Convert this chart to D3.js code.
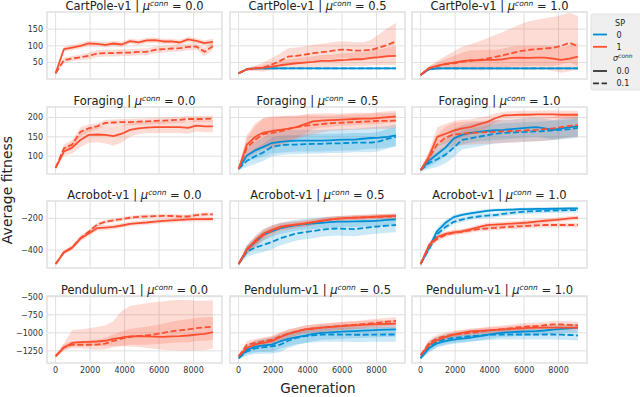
<!DOCTYPE html>
<html><head><meta charset="utf-8">
<script src="https://cdn.jsdelivr.net/npm/d3@7"></script>
<style>body{margin:0;background:#fff}svg{display:block}text{font-family:"DejaVu Sans",sans-serif}</style>
</head><body><svg id="c" width="640" height="397"></svg>
<script>
// ---------- data ----------
const gens = [0,480,960,1440,1920,2400,2880,3360,3840,4320,4800,5280,5760,6240,6720,7200,7680,8160,8640,9120];
const envs = ["CartPole-v1","Foraging","Acrobot-v1","Pendulum-v1"];
const mus = ["0.0","0.5","1.0"];
const xTicks = [0,2000,4000,6000,8000];
const yTicksCartPole = [50,100,150];
const yTicksForaging = [100,150,200];
const yTicksAcrobot = [-400,-200];
const yTicksPendulum = [-1250,-1000,-750,-500];
const spLevels = ["0","1"];
const sigmaLevels = ["0.0","0.1"];

// CartPole
const CP0_R0 = [18,90,95,100,107,106,103,107,104,114,110,116,117,113,113,110,119,115,108,112];
const CP0_R0w = [3,8,8,8,8,8,8,8,8,8,8,8,8,8,8,8,8,8,8,10];
const CP0_R1 = [18,57,62,66,70,77,78,78,80,80,82,82,88,90,92,93,97,98,82,99];
const CP0_R1w = [3,8,8,8,10,10,10,10,10,10,10,10,10,10,10,10,10,10,12,12];
const CP5_B0 = [18,30,33,33,33,33,33,33,33,33,33,33,33,33,33,33,33,33,33,33];
const CP5_B0w = [2,2,1,1,1,1,1,1,1,1,1,1,1,1,1,1,1,1,1,1];
const CP5_B1 = [18,31,33,33,33,33,33,33,33,33,33,33,33,33,33,33,33,33,33,33];
const CP5_B1w = [2,2,1,1,1,1,1,1,1,1,1,1,1,1,1,1,1,1,1,1];
const CP5_R0 = [18,30,33,35,38,42,45,48,50,52,55,55,57,58,60,60,64,66,69,70];
const CP5_R0w = [2,3,5,8,10,12,14,15,16,17,18,18,19,20,20,21,22,24,26,28];
const CP5_R1 = [18,30,33,35,44,55,68,70,74,78,81,84,88,89,86,86,88,95,103,113];
const CP5_R1w = [2,4,8,12,15,18,20,22,22,23,23,24,25,25,25,25,28,32,38,45];
const CP5_R1u = [2,4,8,15,20,22,25,25,25,25,25,25,25,25,25,25,30,40,50,55];
const CP10_B0 = [13,30,33,33,33,33,33,33,33,33,33,33,33,33,33,33,33,33,33,33];
const CP10_B0w = [2,2,1,1,1,1,1,1,1,1,1,1,1,1,1,1,1,1,1,1];
const CP10_B1 = [13,31,33,33,33,33,33,33,33,33,33,33,33,33,33,33,33,33,33,33];
const CP10_B1w = [2,2,1,1,1,1,1,1,1,1,1,1,1,1,1,1,1,1,1,1];
const CP10_R0 = [13,33,40,46,50,54,57,57,58,58,60,64,65,64,65,65,62,58,62,68];
const CP10_R0w = [2,5,10,15,20,25,30,30,30,30,32,34,35,36,36,36,37,38,38,40];
const CP10_R1 = [13,33,40,45,48,52,55,58,62,67,72,78,84,88,90,92,94,100,109,99];
const CP10_R1w = [2,6,12,15,18,20,22,25,28,32,36,40,45,48,50,52,54,56,58,60];
const CP10_R1u = [2,6,15,25,35,45,50,55,60,65,70,75,80,85,88,90,92,92,90,90];

// Foraging
const FO0_R0 = [70,112,122,142,155,156,155,152,158,168,172,174,175,175,175,175,173,179,177,177];
const FO0_R0w = [3,10,15,18,20,20,22,25,22,18,15,15,15,15,15,15,15,15,15,15];
const FO0_R1 = [70,120,130,163,172,177,186,187,188,188,189,190,191,192,193,194,196,196,196,197];
const FO0_R1w = [3,10,12,12,10,8,8,8,8,8,8,8,8,8,8,8,8,8,8,8];
const FO5_B0 = [67,102,115,124,134,137,139,140,140,140,140,141,142,143,143,145,147,148,150,154];
const FO5_B0w = [3,15,22,25,28,28,28,28,28,28,28,28,28,28,28,28,28,28,28,28];
const FO5_B1 = [67,88,100,110,124,128,130,130,131,132,132,133,133,134,135,135,135,138,145,150];
const FO5_B1w = [3,15,20,22,25,25,25,25,25,25,25,25,25,25,25,25,25,25,25,25];
const FO5_R0 = [67,130,150,161,165,168,171,175,183,190,192,193,194,195,196,197,197,199,201,203];
const FO5_R0w = [3,25,35,38,38,35,32,28,25,20,18,18,16,16,16,15,15,15,15,15];
const FO5_R1 = [67,122,142,157,160,164,170,175,178,181,183,185,186,187,188,189,190,191,191,192];
const FO5_R1w = [3,25,35,40,40,38,35,30,28,25,22,20,20,20,20,20,20,20,20,20];
const FO10_B0 = [64,88,105,122,146,155,160,163,165,167,168,170,172,174,175,172,168,172,175,177];
const FO10_B0w = [3,15,20,22,25,25,25,25,25,25,25,25,25,25,25,25,25,25,25,25];
const FO10_B1 = [64,82,92,104,122,142,146,150,154,158,160,161,162,163,164,165,167,168,170,173];
const FO10_B1w = [3,15,20,22,25,25,25,25,25,25,25,25,25,25,25,25,25,25,25,25];
const FO10_R0 = [64,98,150,158,166,172,175,182,188,198,205,206,207,207,208,208,208,207,207,207];
const FO10_R0w = [3,15,25,25,25,22,20,18,15,12,10,10,10,10,10,10,10,10,10,10];
const FO10_R1 = [64,95,130,148,156,158,160,161,162,163,164,165,166,167,168,170,172,175,178,180];
const FO10_R1w = [3,15,25,28,30,30,30,30,30,30,30,30,30,30,30,30,30,30,30,30];

// Acrobot
const AC0_R0 = [-489,-415,-385,-328,-295,-262,-258,-254,-245,-235,-230,-226,-220,-216,-212,-210,-206,-205,-205,-204];
const AC0_R0w = [5,12,15,18,18,18,16,15,15,15,15,15,15,15,15,15,15,15,15,15];
const AC0_R1 = [-489,-415,-385,-325,-285,-240,-222,-212,-205,-196,-190,-188,-186,-184,-185,-188,-188,-180,-175,-175];
const AC0_R1w = [5,12,12,12,12,12,12,12,12,12,12,12,12,12,12,12,12,12,12,12];
const AC5_B0 = [-489,-398,-350,-305,-282,-264,-252,-243,-237,-232,-228,-224,-221,-220,-219,-218,-217,-214,-210,-206];
const AC5_B0w = [5,30,35,35,35,35,35,35,35,35,35,35,35,35,35,35,35,35,35,35];
const AC5_B1 = [-489,-410,-385,-368,-350,-327,-310,-295,-287,-280,-272,-266,-264,-266,-268,-262,-255,-250,-246,-242];
const AC5_B1w = [5,35,40,45,45,45,45,45,45,45,45,45,45,45,45,45,45,45,45,45];
const AC5_R0 = [-489,-395,-340,-296,-272,-253,-245,-238,-232,-224,-215,-208,-201,-198,-195,-193,-190,-188,-186,-184];
const AC5_R0w = [5,25,30,30,28,25,22,20,20,18,18,18,16,16,16,16,16,16,16,16];
const AC5_R1 = [-489,-400,-352,-306,-278,-258,-248,-240,-233,-225,-216,-208,-202,-199,-196,-194,-192,-190,-189,-188];
const AC5_R1w = [5,25,30,30,28,25,22,20,20,18,18,18,16,16,16,16,16,16,16,16];
const AC10_B0 = [-489,-385,-280,-228,-192,-178,-168,-160,-152,-148,-146,-144,-142,-141,-140,-140,-139,-138,-137,-137];
const AC10_B0w = [5,20,20,18,15,12,12,12,12,10,10,10,10,10,10,10,10,10,10,10];
const AC10_B1 = [-489,-395,-300,-255,-222,-208,-195,-188,-183,-179,-172,-165,-160,-156,-154,-152,-150,-149,-148,-147];
const AC10_B1w = [5,20,20,18,15,15,15,15,15,15,15,15,15,15,15,15,15,15,15,15];
const AC10_R0 = [-489,-370,-318,-298,-288,-283,-270,-255,-243,-240,-236,-233,-230,-226,-220,-215,-211,-206,-200,-196];
const AC10_R0w = [5,15,15,15,15,15,15,15,15,15,15,15,15,15,15,15,15,15,15,15];
const AC10_R1 = [-489,-375,-330,-305,-290,-284,-276,-268,-264,-260,-256,-253,-250,-247,-244,-242,-242,-242,-242,-242];
const AC10_R1w = [5,15,15,15,15,15,15,15,15,15,15,15,15,15,15,15,15,15,15,15];

// Pendulum
const PE0_R0 = [-1327,-1205,-1140,-1130,-1125,-1120,-1110,-1085,-1065,-1050,-1046,-1050,-1053,-1055,-1050,-1045,-1037,-1025,-1015,-990];
const PE0_R0w = [20,40,50,60,60,60,80,100,120,140,150,160,170,180,190,200,210,220,225,230];
const PE0_R0u = [20,60,180,180,190,200,210,250,370,420,440,460,480,490,500,500,490,470,460,440];
const PE0_R1 = [-1320,-1200,-1165,-1165,-1165,-1163,-1150,-1110,-1080,-1055,-1045,-1035,-1020,-1000,-980,-965,-953,-935,-925,-916];
const PE0_R1w = [20,40,50,50,60,70,80,90,100,110,120,130,140,150,160,170,180,180,185,185];
const PE0_R1u = [20,40,50,50,60,70,80,90,100,110,115,120,125,130,135,140,140,140,140,136];
const PE5_B0 = [-1351,-1234,-1190,-1175,-1163,-1120,-1085,-1060,-1040,-1015,-1000,-993,-986,-980,-976,-970,-965,-960,-956,-953];
const PE5_B0w = [20,60,80,90,100,100,100,100,100,100,100,100,100,100,100,100,100,100,100,100];
const PE5_B1 = [-1351,-1257,-1215,-1200,-1186,-1165,-1110,-1070,-1046,-1035,-1025,-1023,-1023,-1025,-1027,-1027,-1025,-1024,-1023,-1023];
const PE5_B1w = [20,60,80,90,100,100,100,100,100,100,100,100,100,100,100,100,100,100,100,100];
const PE5_R0 = [-1327,-1210,-1160,-1140,-1115,-1060,-1015,-985,-953,-940,-929,-920,-910,-902,-897,-890,-884,-880,-877,-874];
const PE5_R0w = [20,50,60,60,60,60,60,55,55,55,55,55,55,55,55,55,55,55,55,55];
const PE5_R1 = [-1327,-1165,-1140,-1115,-1095,-1050,-1010,-980,-953,-940,-929,-918,-908,-898,-890,-880,-868,-858,-846,-836];
const PE5_R1w = [20,50,55,55,55,55,55,55,55,55,55,55,55,55,55,55,55,55,55,55];
const PE10_B0 = [-1350,-1215,-1145,-1115,-1093,-1080,-1068,-1050,-1030,-1010,-998,-990,-985,-980,-976,-968,-955,-945,-937,-929];
const PE10_B0w = [20,60,60,60,60,60,60,60,60,60,60,60,60,60,60,60,60,60,60,60];
const PE10_B1 = [-1350,-1190,-1120,-1090,-1070,-1058,-1046,-1040,-1032,-1026,-1023,-1023,-1023,-1023,-1023,-1023,-1023,-1025,-1030,-1037];
const PE10_B1w = [20,70,70,70,70,70,70,70,70,70,70,70,70,70,70,70,70,70,70,70];
const PE10_R0 = [-1310,-1170,-1100,-1060,-1025,-1000,-980,-972,-965,-958,-952,-945,-938,-932,-929,-929,-929,-929,-929,-929];
const PE10_R0w = [20,40,40,40,40,40,40,40,40,40,40,40,40,40,40,40,40,40,40,40];
const PE10_R1 = [-1310,-1145,-1075,-1045,-1023,-1012,-1000,-985,-970,-958,-948,-935,-922,-912,-906,-895,-883,-885,-890,-897];
const PE10_R1w = [20,50,50,50,50,50,50,50,50,50,50,50,50,50,50,50,50,50,50,50];

// table: [row, col, sp, sigma, mean, lowerWidth, upperWidth]
const table = [
 [0,0,1,0,CP0_R0,CP0_R0w,CP0_R0w],[0,0,1,1,CP0_R1,CP0_R1w,CP0_R1w],
 [0,1,0,0,CP5_B0,CP5_B0w,CP5_B0w],[0,1,0,1,CP5_B1,CP5_B1w,CP5_B1w],[0,1,1,0,CP5_R0,CP5_R0w,CP5_R0w],[0,1,1,1,CP5_R1,CP5_R1w,CP5_R1u],
 [0,2,0,0,CP10_B0,CP10_B0w,CP10_B0w],[0,2,0,1,CP10_B1,CP10_B1w,CP10_B1w],[0,2,1,0,CP10_R0,CP10_R0w,CP10_R0w],[0,2,1,1,CP10_R1,CP10_R1w,CP10_R1u],
 [1,0,1,0,FO0_R0,FO0_R0w,FO0_R0w],[1,0,1,1,FO0_R1,FO0_R1w,FO0_R1w],
 [1,1,0,0,FO5_B0,FO5_B0w,FO5_B0w],[1,1,0,1,FO5_B1,FO5_B1w,FO5_B1w],[1,1,1,0,FO5_R0,FO5_R0w,FO5_R0w],[1,1,1,1,FO5_R1,FO5_R1w,FO5_R1w],
 [1,2,0,0,FO10_B0,FO10_B0w,FO10_B0w],[1,2,0,1,FO10_B1,FO10_B1w,FO10_B1w],[1,2,1,0,FO10_R0,FO10_R0w,FO10_R0w],[1,2,1,1,FO10_R1,FO10_R1w,FO10_R1w],
 [2,0,1,0,AC0_R0,AC0_R0w,AC0_R0w],[2,0,1,1,AC0_R1,AC0_R1w,AC0_R1w],
 [2,1,0,0,AC5_B0,AC5_B0w,AC5_B0w],[2,1,0,1,AC5_B1,AC5_B1w,AC5_B1w],[2,1,1,0,AC5_R0,AC5_R0w,AC5_R0w],[2,1,1,1,AC5_R1,AC5_R1w,AC5_R1w],
 [2,2,0,0,AC10_B0,AC10_B0w,AC10_B0w],[2,2,0,1,AC10_B1,AC10_B1w,AC10_B1w],[2,2,1,0,AC10_R0,AC10_R0w,AC10_R0w],[2,2,1,1,AC10_R1,AC10_R1w,AC10_R1w],
 [3,0,1,0,PE0_R0,PE0_R0w,PE0_R0u],[3,0,1,1,PE0_R1,PE0_R1w,PE0_R1u],
 [3,1,0,0,PE5_B0,PE5_B0w,PE5_B0w],[3,1,0,1,PE5_B1,PE5_B1w,PE5_B1w],[3,1,1,0,PE5_R0,PE5_R0w,PE5_R0w],[3,1,1,1,PE5_R1,PE5_R1w,PE5_R1w],
 [3,2,0,0,PE10_B0,PE10_B0w,PE10_B0w],[3,2,0,1,PE10_B1,PE10_B1w,PE10_B1w],[3,2,1,0,PE10_R0,PE10_R0w,PE10_R0w],[3,2,1,1,PE10_R1,PE10_R1w,PE10_R1w]
];

// ---------- layout ----------
const colors = ["#008fd5","#fc4f30"];
const colLeft = [47, 230, 412];
const colW = 175;
const rowTop = [12, 107, 201, 296];
const rowH = 67;
const yDomains = [[1,201],[54,227],[-514,-90],[-1418,-490]];
const yTicksAll = [yTicksCartPole, yTicksForaging, yTicksAcrobot, yTicksPendulum];
const gridColor = "#e0e0e0";
const fmt = v => (v < 0 ? "\u2212" + Math.abs(v) : String(v));

const svg = d3.select("#c");
const x = d3.scaleLinear().domain([-500, 9650]).range([0, colW]);

for (let r = 0; r < 4; r++) {
  const y = d3.scaleLinear().domain(yDomains[r]).range([rowH, 0]);
  for (let c = 0; c < 3; c++) {
    const g = svg.append("g").attr("transform", `translate(${colLeft[c]},${rowTop[r]})`);
    const cid = `clip${r}${c}`;
    g.append("clipPath").attr("id", cid).append("rect").attr("width", colW).attr("height", rowH);
    g.selectAll(".vg").data(xTicks).join("line")
      .attr("x1", d => x(d)).attr("x2", d => x(d)).attr("y1", 0).attr("y2", rowH)
      .attr("stroke", gridColor).attr("stroke-width", 1);
    g.selectAll(".hg").data(yTicksAll[r]).join("line")
      .attr("x1", 0).attr("x2", colW).attr("y1", d => y(d)).attr("y2", d => y(d))
      .attr("stroke", gridColor).attr("stroke-width", 1);
    g.append("rect").attr("width", colW).attr("height", rowH)
      .attr("fill", "none").attr("stroke", gridColor).attr("stroke-width", 1.5);

    const subs = table.filter(t => t[0] === r && t[1] === c)
      .sort((a, b) => (a[2] - b[2]) || (a[3] - b[3]));
    const plot = g.append("g").attr("clip-path", `url(#${cid})`);
    subs.forEach(t => {
      const m = t[4], wl = t[5], wu = t[6];
      const area = d3.area().x((d, i) => x(gens[i]))
        .y0((d, i) => y(m[i] - wl[i])).y1((d, i) => y(m[i] + wu[i]));
      plot.append("path").datum(m).attr("d", area)
        .attr("fill", colors[t[2]]).attr("fill-opacity", 0.2);
    });
    subs.forEach(t => {
      const m = t[4];
      const line = d3.line().x((d, i) => x(gens[i])).y(d => y(d));
      plot.append("path").datum(m).attr("d", line)
        .attr("fill", "none").attr("stroke", colors[t[2]]).attr("stroke-width", 1.8)
        .attr("stroke-linejoin", "round")
        .attr("stroke-dasharray", t[3] === 1 ? "6,2.6" : null);
    });

    if (c === 0) {
      g.selectAll(".yl").data(yTicksAll[r]).join("text")
        .attr("x", -4).attr("y", d => y(d)).attr("dy", "0.35em")
        .attr("text-anchor", "end").attr("font-size", 8).attr("fill", "#333")
        .text(fmt);
    }
    if (r === 3) {
      g.selectAll(".xl").data(xTicks).join("text")
        .attr("x", d => x(d)).attr("y", rowH + 10)
        .attr("text-anchor", "middle").attr("font-size", 8).attr("fill", "#333")
        .text(d => d);
    }
    const tt = svg.append("text").attr("x", colLeft[c] + colW / 2).attr("y", rowTop[r] - 2.5)
      .attr("text-anchor", "middle").attr("font-size", 11.5).attr("fill", "#222");
    tt.append("tspan").text(envs[r] + " | ");
    tt.append("tspan").attr("font-style", "italic").text("\u03bc");
    tt.append("tspan").attr("font-style", "italic").attr("font-size", 7.5).attr("dy", -3.5).text("conn");
    tt.append("tspan").attr("dy", 3.5).text(" = " + mus[c]);
  }
}

svg.append("text").attr("transform", "translate(12,190) rotate(-90)")
  .attr("text-anchor", "middle").attr("font-size", 14).attr("fill", "#222").text("Average fitness");
svg.append("text").attr("x", 318).attr("y", 393)
  .attr("text-anchor", "middle").attr("font-size", 13.5).attr("fill", "#222").text("Generation");

// legend
const lg = svg.append("g");
lg.append("rect").attr("x", 591).attr("y", 14).attr("width", 52).attr("height", 76)
  .attr("rx", 2).attr("fill", "#efefef").attr("stroke", "#dddddd").attr("stroke-width", 0.8);
lg.append("text").attr("x", 620).attr("y", 26).attr("text-anchor", "middle")
  .attr("font-size", 8).attr("fill", "#222").text("SP");
spLevels.forEach((s, i) => {
  const yy = 34.5 + i * 12.3;
  lg.append("line").attr("x1", 593).attr("x2", 607).attr("y1", yy).attr("y2", yy)
    .attr("stroke", colors[i]).attr("stroke-width", 1.8);
  lg.append("text").attr("x", 616.5).attr("y", yy + 3).attr("font-size", 8).attr("fill", "#222").text(s);
});
const st = lg.append("text").attr("x", 613).attr("y", 61).attr("font-size", 8).attr("fill", "#222");
st.append("tspan").attr("font-style", "italic").text("\u03c3");
st.append("tspan").attr("font-style", "italic").attr("font-size", 6).attr("dy", -3).text("conn");
sigmaLevels.forEach((s, i) => {
  const yy = 71 + i * 12.3;
  lg.append("line").attr("x1", 593).attr("x2", 607).attr("y1", yy).attr("y2", yy)
    .attr("stroke", "#333").attr("stroke-width", 1.8)
    .attr("stroke-dasharray", i === 1 ? "6,2.6" : null);
  lg.append("text").attr("x", 616.5).attr("y", yy + 3).attr("font-size", 8).attr("fill", "#222").text(s);
});
</script></body></html>
